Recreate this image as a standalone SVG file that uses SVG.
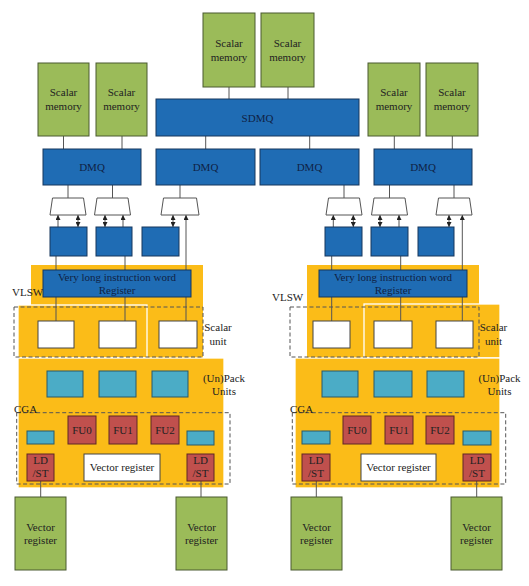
<svg xmlns="http://www.w3.org/2000/svg" width="529" height="586" viewBox="0 0 529 586">
<defs>
<style>
text{font-family:"Liberation Serif","Times New Roman",serif;font-size:11px;fill:#222;text-anchor:middle}
.lbl{text-anchor:start}
.green{fill:#9bbb59;stroke:#4a5a30;stroke-width:1}
.blue{fill:#1f6cb4;stroke:#17365d;stroke-width:1}
.bt{fill:#0f2244}
.orange{fill:#fbbc18;stroke:#fff;stroke-width:1.3}
.orangeA{fill:#fbbc18;stroke:none}
.dash{fill:none;stroke:#555;stroke-width:1;stroke-dasharray:4 2.5}
.cyan{fill:#4bacc6;stroke:#2b5866;stroke-width:1}
.red{fill:#c0504d;stroke:#5e2726;stroke-width:1}
.wbox{fill:#fff;stroke:#444;stroke-width:1}
.mux{fill:#fff;stroke:#555;stroke-width:1}
.c{stroke:#555;stroke-width:1;fill:none}
.a{marker-end:url(#ah)}
.d{marker-end:url(#ah);marker-start:url(#ahs)}
</style>
<marker id="ah" markerUnits="userSpaceOnUse" markerWidth="5" markerHeight="5" viewBox="0 0 5 5" refX="5" refY="2.5" orient="auto"><path d="M0,0 L5,2.5 L0,5 z" fill="#222"/></marker>
<marker id="ahs" markerUnits="userSpaceOnUse" markerWidth="5" markerHeight="5" viewBox="0 0 5 5" refX="5" refY="2.5" orient="auto-start-reverse"><path d="M0,0 L5,2.5 L0,5 z" fill="#222"/></marker>
</defs>

<g id="backgrounds">
<rect class="orangeA" x="31" y="265" width="172" height="93"/>
<rect class="orange" x="18" y="305" width="129" height="53"/>
<rect class="orange" x="18" y="358" width="206" height="130"/>
<rect class="orangeA" x="307" y="265" width="172" height="93"/>
<rect class="orange" x="364" y="304" width="136" height="54"/>
<rect class="orange" x="295" y="358" width="205" height="130"/>
</g>

<g id="connectors">
<line class="c" x1="63.5" y1="136" x2="63.5" y2="149"/>
<line class="c" x1="122" y1="136" x2="122" y2="149"/>
<line class="c" x1="229" y1="87" x2="229" y2="99"/>
<line class="c" x1="288" y1="87" x2="288" y2="99"/>
<line class="c" x1="205.7" y1="136" x2="205.7" y2="149"/>
<line class="c" x1="309.7" y1="136" x2="309.7" y2="149"/>
<line class="c" x1="394.3" y1="136" x2="394.3" y2="149"/>
<line class="c" x1="452.3" y1="136" x2="452.3" y2="149"/>
<line class="c" x1="68" y1="185" x2="68" y2="198"/>
<line class="c" x1="112.5" y1="185" x2="112.5" y2="198"/>
<line class="c" x1="180" y1="185" x2="180" y2="198"/>
<line class="c" x1="344" y1="185" x2="344" y2="198"/>
<line class="c" x1="389.5" y1="185" x2="389.5" y2="198"/>
<line class="c" x1="454" y1="185" x2="454" y2="198"/>
<line class="c a" x1="58" y1="227" x2="58" y2="215"/>
<line class="c d" x1="78" y1="227" x2="78" y2="215"/>
<line class="c d" x1="105" y1="227" x2="105" y2="215"/>
<line class="c a" x1="123" y1="227" x2="123" y2="215"/>
<line class="c d" x1="173" y1="227" x2="173" y2="215"/>
<line class="c a" x1="186" y1="321" x2="186" y2="215"/>
<line class="c a" x1="333.3" y1="227" x2="333.3" y2="215"/>
<line class="c d" x1="353.3" y1="227" x2="353.3" y2="215"/>
<line class="c d" x1="380" y1="227" x2="380" y2="215"/>
<line class="c a" x1="399" y1="227" x2="399" y2="215"/>
<line class="c d" x1="449" y1="227" x2="449" y2="215"/>
<line class="c a" x1="462.3" y1="321" x2="462.3" y2="215"/>
<line class="c" x1="56" y1="256" x2="56" y2="321"/>
<line class="c" x1="125" y1="256" x2="125" y2="321"/>
<line class="c" x1="331.7" y1="256" x2="331.7" y2="321"/>
<line class="c" x1="400.7" y1="256" x2="400.7" y2="321"/>
<line class="c" x1="40.7" y1="481" x2="40.7" y2="497"/>
<line class="c" x1="201" y1="481" x2="201" y2="497"/>
<line class="c" x1="316.3" y1="481" x2="316.3" y2="497"/>
<line class="c" x1="476.7" y1="481" x2="476.7" y2="497"/>
</g>

<g id="scalar-memory-l1"><rect class="green" x="38" y="63" width="51" height="73"/><text x="63.5" y="96">Scalar</text><text x="63.5" y="110">memory</text></g>
<g id="scalar-memory-l2"><rect class="green" x="96" y="63" width="51" height="73"/><text x="121.5" y="96">Scalar</text><text x="121.5" y="110">memory</text></g>
<g id="scalar-memory-t1"><rect class="green" x="203" y="13" width="52" height="74"/><text x="229" y="47">Scalar</text><text x="229" y="61">memory</text></g>
<g id="scalar-memory-t2"><rect class="green" x="261" y="13" width="53" height="74"/><text x="287.5" y="47">Scalar</text><text x="287.5" y="61">memory</text></g>
<g id="scalar-memory-r1"><rect class="green" x="368" y="63" width="52" height="73"/><text x="394" y="96">Scalar</text><text x="394" y="110">memory</text></g>
<g id="scalar-memory-r2"><rect class="green" x="426" y="63" width="52" height="73"/><text x="452" y="96">Scalar</text><text x="452" y="110">memory</text></g>

<g id="sdmq"><rect class="blue" x="156" y="99" width="203" height="37"/><text class="bt" x="257.5" y="122">SDMQ</text></g>
<g id="dmq-l"><rect class="blue" x="43" y="149" width="98" height="36"/><text class="bt" x="92" y="171">DMQ</text></g>
<g id="dmq-cl"><rect class="blue" x="156" y="149" width="99" height="36"/><text class="bt" x="205.5" y="171">DMQ</text></g>
<g id="dmq-cr"><rect class="blue" x="260" y="149" width="99" height="36"/><text class="bt" x="309.5" y="171">DMQ</text></g>
<g id="dmq-r"><rect class="blue" x="374" y="149" width="98" height="36"/><text class="bt" x="423" y="171">DMQ</text></g>

<g id="mux-l1"><polygon class="mux" points="52.5,198 83.5,198 86,215 50,215"/></g>
<g id="mux-l2"><polygon class="mux" points="97,198 128,198 130.5,215 94.5,215"/></g>
<g id="mux-l3"><polygon class="mux" points="163.5,198 196.5,198 199,215 161,215"/></g>
<g id="mux-r1"><polygon class="mux" points="328.5,198 359.5,198 362,215 326,215"/></g>
<g id="mux-r2"><polygon class="mux" points="374,198 405,198 407.5,215 371.5,215"/></g>
<g id="mux-r3"><polygon class="mux" points="438.5,198 469.5,198 472,215 436,215"/></g>

<g id="reg-l1"><rect class="blue" x="50" y="227" width="37" height="29"/></g>
<g id="reg-l2"><rect class="blue" x="96" y="227" width="36" height="29"/></g>
<g id="reg-l3"><rect class="blue" x="142" y="227" width="37" height="29"/></g>
<g id="reg-r1"><rect class="blue" x="325" y="227" width="37" height="29"/></g>
<g id="reg-r2"><rect class="blue" x="371" y="227" width="37" height="29"/></g>
<g id="reg-r3"><rect class="blue" x="418" y="227" width="36" height="29"/></g>

<g id="vliw-l"><rect class="blue" x="43" y="270" width="148" height="27"/><text class="bt" x="117" y="281">Very long instruction word</text><text class="bt" x="117" y="294">Register</text></g>
<g id="vliw-r"><rect class="blue" x="319" y="270" width="148" height="27"/><text class="bt" x="393" y="281">Very long instruction word</text><text class="bt" x="393" y="294">Register</text></g>

<g id="vlsw-l"><rect class="dash" x="14" y="307" width="189" height="50"/><text class="lbl" x="12" y="296">VLSW</text>
<rect class="wbox" x="38" y="321" width="36" height="27"/><rect class="wbox" x="99" y="321" width="37" height="27"/><rect class="wbox" x="159" y="321" width="38" height="27"/>
<text x="218" y="331">Scalar</text><text x="218" y="345">unit</text></g>
<g id="vlsw-r"><rect class="dash" x="290" y="307" width="189" height="50"/><text class="lbl" x="272" y="301">VLSW</text>
<rect class="wbox" x="313" y="321" width="37" height="27"/><rect class="wbox" x="374" y="321" width="38" height="27"/><rect class="wbox" x="436" y="321" width="37" height="27"/>
<text x="493.5" y="331">Scalar</text><text x="493.5" y="345">unit</text></g>

<g id="pack-l"><rect class="cyan" x="47" y="371" width="36" height="26"/><rect class="cyan" x="99" y="371" width="37" height="26"/><rect class="cyan" x="152" y="371" width="36" height="26"/>
<text x="224" y="381.5">(Un)Pack</text><text x="224" y="395">Units</text></g>
<g id="pack-r"><rect class="cyan" x="322" y="371" width="36" height="26"/><rect class="cyan" x="374" y="371" width="38" height="26"/><rect class="cyan" x="427" y="371" width="37" height="26"/>
<text x="499.5" y="381.5">(Un)Pack</text><text x="499.5" y="395">Units</text></g>

<g id="cga-l"><rect class="dash" x="16.7" y="412.7" width="213.3" height="71.3"/><text class="lbl" x="14" y="413">CGA</text>
<rect class="red" x="68" y="416" width="28" height="28"/><text x="82" y="434">FU0</text>
<rect class="red" x="109" y="416" width="28" height="28"/><text x="123" y="434">FU1</text>
<rect class="red" x="151" y="416" width="28" height="28"/><text x="165" y="434">FU2</text>
<rect class="cyan" x="27" y="431" width="27" height="13"/><rect class="cyan" x="187" y="431" width="27" height="14"/>
<rect class="red" x="27" y="454" width="27" height="27"/><text x="40.5" y="464">LD</text><text x="40.5" y="477">/ST</text>
<rect class="red" x="187" y="454" width="27" height="27"/><text x="200.5" y="464">LD</text><text x="200.5" y="477">/ST</text>
<rect class="wbox" x="84" y="454" width="76" height="27"/><text x="122" y="471">Vector register</text></g>
<g id="cga-r"><rect class="dash" x="292.3" y="412.7" width="213.4" height="71.3"/><text class="lbl" x="290" y="413">CGA</text>
<rect class="red" x="343" y="416" width="28" height="28"/><text x="357" y="434">FU0</text>
<rect class="red" x="385" y="416" width="28" height="28"/><text x="399" y="434">FU1</text>
<rect class="red" x="426" y="416" width="28" height="28"/><text x="440" y="434">FU2</text>
<rect class="cyan" x="302" y="431" width="28" height="13"/><rect class="cyan" x="463" y="431" width="28" height="14"/>
<rect class="red" x="302" y="454" width="28" height="27"/><text x="316" y="464">LD</text><text x="316" y="477">/ST</text>
<rect class="red" x="463" y="454" width="28" height="27"/><text x="477" y="464">LD</text><text x="477" y="477">/ST</text>
<rect class="wbox" x="361" y="454" width="75" height="27"/><text x="398.5" y="471">Vector register</text></g>

<g id="vector-register-l1"><rect class="green" x="15" y="497" width="51" height="73"/><text x="40.5" y="531">Vector</text><text x="40.5" y="544">register</text></g>
<g id="vector-register-l2"><rect class="green" x="176" y="497" width="51" height="73"/><text x="201.5" y="531">Vector</text><text x="201.5" y="544">register</text></g>
<g id="vector-register-r1"><rect class="green" x="291" y="497" width="51" height="73"/><text x="316.5" y="531">Vector</text><text x="316.5" y="544">register</text></g>
<g id="vector-register-r2"><rect class="green" x="451" y="497" width="51" height="73"/><text x="476.5" y="531">Vector</text><text x="476.5" y="544">register</text></g>
</svg>
